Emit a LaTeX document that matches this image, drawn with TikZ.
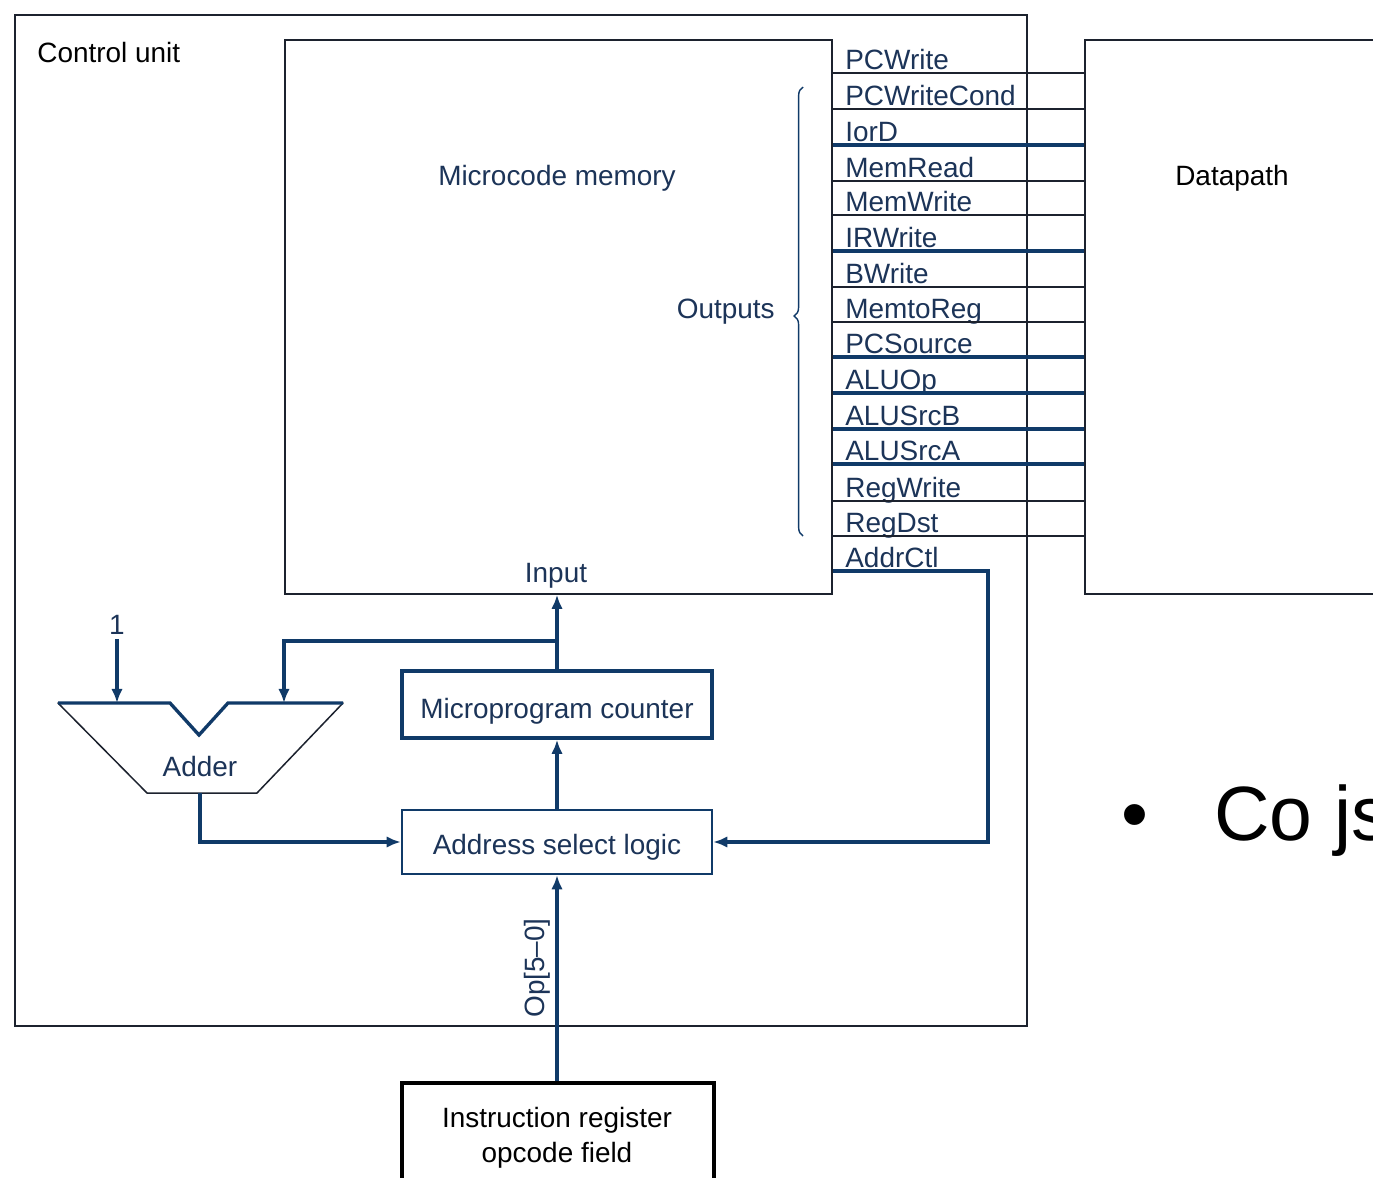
\documentclass[tikz,border=0pt]{standalone}
\usepackage{fontspec}
\setmainfont{Liberation Sans}
\usetikzlibrary{arrows.meta,fit,decorations.pathreplacing,calc}
\definecolor{navy}{RGB}{16,58,104}
\definecolor{navytext}{RGB}{28,52,88}
\definecolor{rule}{RGB}{28,34,46}
\newcommand\labelsize{\fontsize{15.9}{19}\selectfont}
\newcommand\bigsize{\fontsize{43.8}{50}\selectfont}
\begin{document}
\begin{tikzpicture}[x=0.02cm,y=-0.02cm,
  every node/.style={font=\labelsize, inner sep=0pt},
  frame/.style={draw=rule, line width=0.85pt, inner sep=0pt},
  lbl/.style={text=navytext},
  sigthin/.style={draw=rule, line width=0.85pt},
  sigbus/.style={draw=navy, line width=1.9pt},
  sigwide/.style={draw=navy, line width=2.8pt},
  arr/.style={-{Latex[length=8pt,width=6.5pt]}},
]
\fill[white] (0,0) rectangle (1373,1177);
\clip (0,0) rectangle (1373,1177);

% outer frames
\node[frame, fit={(15,15) (1027,1026)}] (cu) {};
\node[anchor=base west] (cutitle) at (37,62) {Control unit};
\node[frame, fit={(285,40) (832,594)}] (mem) {};
\node[lbl, anchor=base] (memtitle) at (557,185) {Microcode memory};
\node[lbl, anchor=base] (memin) at (556,582) {Input};
\node[lbl, anchor=base east] (memout) at (775,318) {Outputs};
\node[frame, fit={(1085,40) (1420,594)}] (dp) {};
\node[anchor=base] (dptitle) at (1232,185) {Datapath};

% brace grouping the output signals
\draw[navy, line width=0.8pt, decorate, decoration={brace, amplitude=5pt, aspect=0.49}]
  (803,536) -- (803,87);

% control signal rows
\foreach \name/\y/\sty [count=\i] in {
  PCWrite/73/sigthin, PCWriteCond/109/sigthin, IorD/145/sigbus,
  MemRead/181/sigthin, MemWrite/215/sigthin, IRWrite/251/sigbus,
  BWrite/287/sigthin, MemtoReg/322/sigthin, PCSource/357/sigbus,
  ALUOp/393/sigwide, ALUSrcB/429/sigbus, ALUSrcA/464/sigbus,
  RegWrite/501/sigthin, RegDst/536/sigthin} {
  \coordinate (row\i) at (958,\y);
  \node[lbl, anchor=base west] (sig\i) at (845,{\y-4}) {\name};
  \draw[\sty] (mem.east |- row\i) -- (dp.west |- row\i);
}
\coordinate (rowctl) at (900,571);
\node[lbl, anchor=base west] (sigctl) at (845,567) {AddrCtl};

% sequencing blocks
\node[draw=navy, line width=2pt, fit={(402,671) (712,738)}] (mpc) {};
\node[lbl, anchor=base] (mpctext) at (557,718) {Microprogram counter};
\node[draw=navy, line width=1.4pt, fit={(402,810) (712,874)}] (asl) {};
\node[lbl, anchor=base] (asltext) at (557,854) {Address select logic};
\node[draw=black, line width=2pt, fit={(402,1083) (714,1210)}] (ir) {};
\node[align=center, font=\fontsize{15.9}{19.9}\selectfont] (irtext) at (557,1138) {Instruction register\\opcode field};

% adder
\coordinate (aTL) at (58,703);
\coordinate (aN1) at (170,703);
\coordinate (aV) at (199,735);
\coordinate (aN2) at (228,703);
\coordinate (aTR) at (343,703);
\coordinate (aBR) at (257,793);
\coordinate (aBL) at (147,793);
\coordinate (addinL) at (118,703);
\coordinate (addinR) at (284,703);
\coordinate (addout) at (200,793);
\draw[rule, line width=0.85pt, line join=round] (aTL) -- (aN1) -- (aV) -- (aN2) -- (aTR) -- (aBR) -- (aBL) -- cycle;
\draw[sigbus] (aTL) -- (aN1) -- (aV) -- (aN2) -- (aTR);
\node[lbl] (adder) at (200,767) {Adder};
\node[lbl] (one) at (117,625) {1};

% connections
\coordinate (branch) at (557,641);
\coordinate (ctlturn) at (988,571);
\draw[sigbus, arr] (one.south) ++(0,4) -- (one.south |- addinL);
\draw[sigbus] (mpc.north) -- (branch);
\draw[sigbus, arr] (branch) -- (branch |- mem.south);
\draw[sigbus, arr] (branch) -| (addinR);
\draw[sigbus, arr] (asl.north) -- (mpc.south);
\draw[sigbus, arr] (addout) |- (asl.west);
\draw[sigbus, arr] (mem.east |- rowctl) -- (ctlturn) |- (asl.east);
\draw[sigbus, arr] (ir.north -| asl.south) -- node[lbl, pos=0.55, rotate=90, anchor=south, inner sep=3pt] {Op[5--0]} (asl.south);

% slide text at the right
\node[font=\bigsize, anchor=base] (bullet) at (1135,840) {•};
\node[font=\bigsize, anchor=base west] (cojs) at (1214,840) {Co js};
\end{tikzpicture}
\end{document}
